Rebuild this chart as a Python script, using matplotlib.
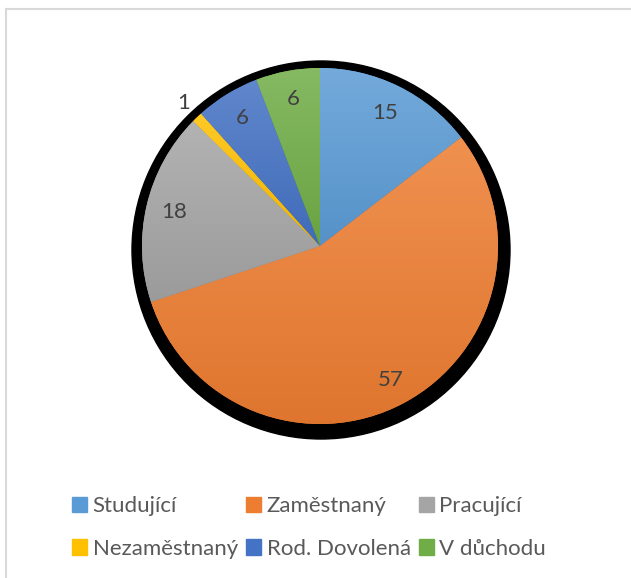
import matplotlib.pyplot as plt
import matplotlib.colors as mcolors
from matplotlib.patches import Patch, Circle
import numpy as np

plt.rcParams['font.family'] = ['Lato', 'DejaVu Sans']

labels = ['Studující', 'Zaměstnaný', 'Pracující', 'Nezaměstnaný', 'Rod. Dovolená', 'V důchodu']
values = [15, 57, 18, 1, 6, 6]
colors = ['#5B9BD5', '#ED7D31', '#A5A5A5', '#FFC000', '#4472C4', '#70AD47']
label_dist = [0.83, 0.85, 0.84, 1.11, 0.84, 0.84]

W, H = 631, 578
fig = plt.figure(figsize=(W / 100, H / 100), dpi=100)
ax = fig.add_axes([0, 0, 1, 1])
ax.axis('off')

cx, cy, r = 320, H - 246, 178

# shadow behind the pie
ax.add_patch(Circle((cx + 1, cy - 4), r + 11, color='black', zorder=0))

wedges, _ = ax.pie(values, colors=colors, startangle=90, counterclock=False,
                   center=(cx, cy), radius=r, frame=True,
                   wedgeprops=dict(linewidth=0))

# vertical gradient inside each slice
for w, c in zip(wedges, colors):
    base = np.array(mcolors.to_rgb(c))
    top = base + (1 - base) * 0.15
    bot = base * 0.94
    t = np.linspace(0, 1, 64)[:, None]
    grad = (top * (1 - t) + bot * t)[:, None, :]
    v = w.get_path().vertices
    img = ax.imshow(grad, extent=[v[:, 0].min(), v[:, 0].max(), v[:, 1].min(), v[:, 1].max()],
                    origin='upper', aspect='auto', zorder=w.get_zorder() + 0.1)
    img.set_clip_path(w)

# data labels
for w, val, d in zip(wedges, values, label_dist):
    ang = np.deg2rad((w.theta1 + w.theta2) / 2)
    ax.text(cx + d * r * np.cos(ang), cy + d * r * np.sin(ang), str(val),
            ha='center', va='center', fontsize=16, color='#404040', zorder=5)

# chart border (top and left)
ax.plot([6, W], [H - 9, H - 9], color='#d9d9d9', lw=1.5, zorder=0)
ax.plot([6, 6], [H - 9, 0], color='#d9d9d9', lw=1.5, zorder=0)

handles = [Patch(color=c, label=l) for c, l in zip(colors, labels)]
order = [0, 3, 1, 4, 2, 5]
ax.legend([handles[i] for i in order], [labels[i] for i in order], ncol=3,
          loc='upper left', bbox_to_anchor=(72, H - 496), bbox_transform=ax.transData,
          frameon=False, fontsize=16, labelcolor='#595959', borderpad=0, borderaxespad=0,
          handlelength=0.68, handleheight=0.68, handletextpad=0.25,
          labelspacing=1.02, columnspacing=0.36)

ax.set_xlim(0, W)
ax.set_ylim(0, H)
ax.set_aspect('auto')

plt.savefig('out.png', dpi=100)
plt.close()
